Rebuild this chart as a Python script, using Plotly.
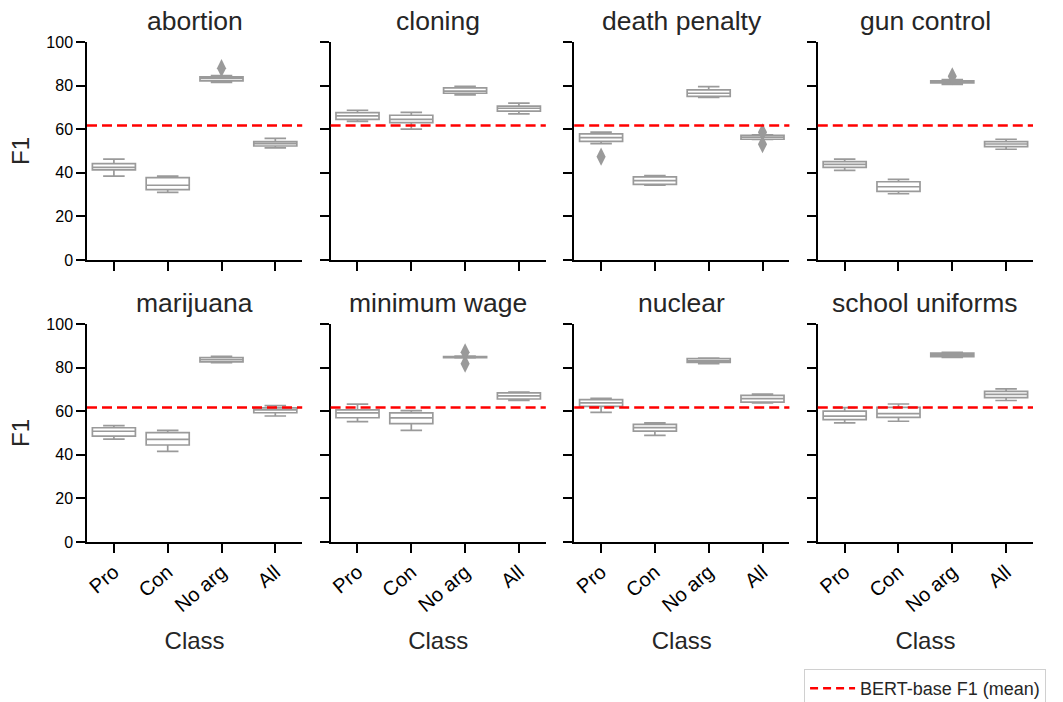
import plotly.graph_objects as go
from plotly.subplots import make_subplots

topics = ["abortion", "cloning", "death penalty", "gun control",
          "marijuana", "minimum wage", "nuclear", "school uniforms"]
classes = ["Pro", "Con", "No arg", "All"]

# per topic: [Pro, Con, No arg, All]
q1_vals = [
    [41.3, 32.3, 82.2, 52.3],
    [64.5, 63.0, 76.5, 68.3],
    [54.4, 34.7, 75.1, 55.4],
    [42.5, 31.5, 81.2, 52.0],
    [48.6, 44.5, 82.6, 59.3],
    [57.0, 54.3, 84.6, 65.6],
    [62.2, 50.9, 82.4, 64.2],
    [56.1, 57.2, 85.0, 66.2],
]
median_vals = [
    [42.5, 34.3, 83.3, 53.4],
    [66.1, 64.5, 77.5, 69.6],
    [56.1, 36.4, 76.5, 56.3],
    [43.9, 33.6, 81.8, 53.2],
    [50.8, 47.1, 83.6, 60.6],
    [59.2, 56.9, 84.9, 67.0],
    [63.8, 52.5, 83.1, 65.8],
    [57.7, 58.9, 85.8, 67.7],
]
q3_vals = [
    [44.2, 37.8, 84.0, 54.3],
    [67.6, 66.4, 79.0, 70.6],
    [57.9, 38.1, 78.0, 57.2],
    [45.1, 35.9, 82.2, 54.3],
    [52.4, 50.2, 84.6, 61.5],
    [60.6, 59.2, 85.1, 68.4],
    [65.3, 54.0, 84.1, 67.3],
    [60.0, 61.8, 86.6, 69.1],
]
low_vals = [
    [38.5, 31.0, 81.5, 51.4],
    [63.6, 60.0, 75.7, 67.0],
    [53.4, 34.3, 74.6, 55.3],
    [41.1, 30.4, 80.6, 50.8],
    [47.2, 41.6, 82.3, 57.8],
    [55.2, 51.2, 84.4, 65.0],
    [59.5, 48.9, 81.8, 63.8],
    [54.6, 55.4, 84.7, 64.9],
]
high_vals = [
    [46.3, 38.5, 84.6, 55.8],
    [68.7, 67.7, 79.7, 72.0],
    [58.7, 38.7, 79.5, 57.4],
    [46.3, 37.0, 82.8, 55.4],
    [53.4, 51.2, 85.2, 62.6],
    [63.2, 60.3, 85.3, 68.8],
    [65.9, 54.6, 84.4, 67.9],
    [61.6, 63.3, 87.0, 70.2],
]

outlier_topic = ["abortion", "death penalty", "death penalty", "death penalty",
                 "gun control", "minimum wage", "minimum wage"]
outlier_class = ["No arg", "Pro", "All", "All", "No arg", "No arg", "No arg"]
outlier_value = [88.0, 47.4, 58.6, 53.1, 84.3, 87.0, 81.8]

bert_mean = 61.7

FONT = "Liberation Sans, Arial, sans-serif"
TXT = "#262626"
GRAY = "#9a9a9a"

fig = make_subplots(rows=2, cols=4, subplot_titles=topics,
                    horizontal_spacing=0.030, vertical_spacing=0.128)

for i, t in enumerate(topics):
    r, c = i // 4 + 1, i % 4 + 1
    fig.add_trace(go.Box(
        x=classes, q1=q1_vals[i], median=median_vals[i], q3=q3_vals[i],
        lowerfence=low_vals[i], upperfence=high_vals[i],
        boxpoints=False, width=0.8, whiskerwidth=0.5,
        line=dict(color=GRAY, width=1.7), fillcolor="white",
        showlegend=False, hoverinfo="skip"), row=r, col=c)
    ox = [outlier_class[k] for k in range(len(outlier_topic)) if outlier_topic[k] == t]
    oy = [outlier_value[k] for k in range(len(outlier_topic)) if outlier_topic[k] == t]
    if ox:
        fig.add_trace(go.Scatter(
            x=ox, y=oy, mode="markers",
            marker=dict(symbol="diamond-tall", size=13, color=GRAY,
                        line=dict(width=0)),
            showlegend=False, hoverinfo="skip"), row=r, col=c)
    fig.add_hline(y=bert_mean, line=dict(color="red", width=2.5, dash="10px,5px"),
                  row=r, col=c)

    fig.update_xaxes(type="category", categoryorder="array", categoryarray=classes,
                     range=[-0.5, 3.5], showline=True, linecolor="black", linewidth=1.5,
                     ticks="outside", ticklen=9, tickwidth=1.5, tickcolor="black",
                     showgrid=False, zeroline=False, tickangle=-40,
                     tickfont=dict(family=FONT, size=20, color="black"),
                     showticklabels=(r == 2),
                     title=dict(text="Class" if r == 2 else "",
                                font=dict(family=FONT, size=24, color=TXT),
                                standoff=17),
                     row=r, col=c)
    fig.update_yaxes(range=[0, 100], tickvals=[0, 20, 40, 60, 80, 100],
                     showline=True, linecolor="black", linewidth=1.5,
                     ticks="outside", ticklen=9, tickwidth=1.5, tickcolor="black",
                     showgrid=False, zeroline=False,
                     tickfont=dict(family=FONT, size=16, color="black"),
                     showticklabels=(c == 1),
                     title=dict(text="F1" if c == 1 else "",
                                font=dict(family=FONT, size=24, color=TXT),
                                standoff=10),
                     row=r, col=c)

# legend entry for the reference line
fig.add_trace(go.Scatter(x=[None], y=[None], mode="lines",
                         line=dict(color="red", width=2.5, dash="8px,5px"),
                         name="BERT-base F1 (mean)", showlegend=True), row=1, col=1)

for a in fig.layout.annotations:
    a.font = dict(family=FONT, size=26.5, color=TXT)
    a.yshift = 4

fig.update_layout(
    width=1063, height=702,
    margin=dict(l=87, r=30, t=42, b=160, autoexpand=False),
    plot_bgcolor="white", paper_bgcolor="white",
    font=dict(family=FONT, color=TXT),
    legend=dict(x=0.758, xanchor="left", y=-0.254, yanchor="top",
                bordercolor="#d0d0d0", borderwidth=1, bgcolor="white",
                itemwidth=45,
                font=dict(family=FONT, size=18, color=TXT)),
)

fig.write_html("out.html", config={"displayModeBar": False},
               post_script="document.body.style.margin='0px';document.body.style.overflow='hidden';")
